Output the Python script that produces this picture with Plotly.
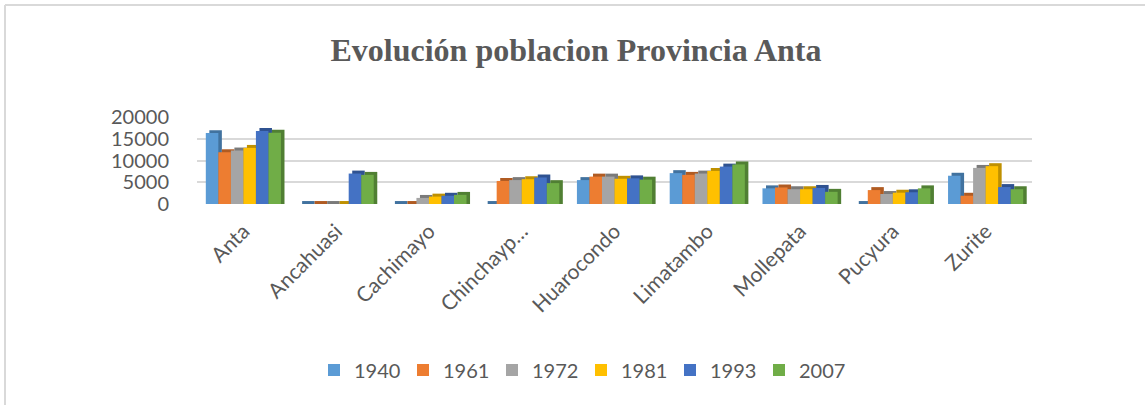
import plotly.graph_objects as go

# Data
districts = ["Anta", "Ancahuasi", "Cachimayo", "Chinchayp…", "Huarocondo",
             "Limatambo", "Mollepata", "Pucyura", "Zurite"]
years = ["1940", "1961", "1972", "1981", "1993", "2007"]

pop_1940 = [16300, 0, 0, 0, 5500, 7100, 3600, 0, 6500]
pop_1961 = [11900, 0, 0, 5300, 6300, 6700, 3800, 3200, 1900]
pop_1972 = [12300, 0, 1400, 5500, 6300, 7000, 3400, 2300, 8300]
pop_1981 = [12900, 0, 1700, 5700, 5800, 7600, 3400, 2600, 8700]
pop_1993 = [16800, 7000, 1900, 6100, 5900, 8600, 3700, 2700, 3900]
pop_2007 = [16400, 6700, 2100, 4800, 5600, 9100, 2800, 3600, 3400]

y_ticks = [0, 5000, 10000, 15000, 20000]

series = [pop_1940, pop_1961, pop_1972, pop_1981, pop_1993, pop_2007]
colors = ["#5B9BD5", "#ED7D31", "#A5A5A5", "#FFC000", "#4472C4", "#70AD47"]
side_colors = ["#41729F", "#B05B22", "#7A7A7A", "#BF9000", "#2F5291", "#507F33"]

# Page geometry (pixels)
W, H = 1145, 405
ML, MR, MT, MB = 197, 113, 117, 201
pw, ph = W - ML - MR, H - MT - MB

GREY = "#595959"
FONT = "Lato"

bar_w = 0.135
start = -0.405
depth_x = 0.038
depth_y = 680

xs = list(range(len(districts)))
fig = go.Figure()

# darker "3D" side / top faces first
for i, vals in enumerate(series):
    fig.add_trace(go.Bar(
        x=xs, y=[v + depth_y for v in vals], base=0,
        offset=start + i * bar_w + depth_x, width=bar_w,
        marker=dict(color=side_colors[i], line=dict(width=0)),
        showlegend=False, hoverinfo="skip"))

# front faces
for i, vals in enumerate(series):
    fig.add_trace(go.Bar(
        x=xs, y=vals, name=years[i],
        offset=start + i * bar_w, width=bar_w,
        marker=dict(color=colors[i], line=dict(width=0))))


def px_x(p):
    return (p - ML) / pw


def px_y(p):
    return (H - MB - p) / ph


# light frame round the chart area (top and left edges visible)
frame = dict(color="#D9D9D9", width=2)
fig.add_shape(type="line", xref="paper", yref="paper",
              x0=px_x(5), y0=px_y(5), x1=px_x(W + 5), y1=px_y(5), line=frame)
fig.add_shape(type="line", xref="paper", yref="paper",
              x0=px_x(5), y0=px_y(5), x1=px_x(5), y1=px_y(H + 5), line=frame)

fig.update_layout(
    width=W, height=H,
    margin=dict(l=ML, r=MR, t=MT, b=MB, pad=0, autoexpand=False),
    paper_bgcolor="white", plot_bgcolor="white",
    barmode="overlay",
    title=dict(text="<b>Evolución poblacion Provincia Anta</b>",
               font=dict(family="Liberation Serif", size=32, color=GREY),
               x=576 / W, xanchor="center", xref="container",
               y=1 - 50 / H, yanchor="middle", yref="container"),
    legend=dict(orientation="h", x=581 / W, xanchor="center", xref="container",
                y=1 - 370 / H, yanchor="middle", yref="container",
                font=dict(family=FONT, size=20, color=GREY),
                entrywidth=44, entrywidthmode="pixels",
                traceorder="normal"),
    font=dict(family=FONT, color=GREY),
)

fig.update_yaxes(range=[0, 20000], tickvals=y_ticks, ticktext=[str(v) for v in y_ticks],
                 showgrid=True, gridcolor="#D9D9D9", gridwidth=2,
                 zeroline=False, showline=False, automargin=False,
                 tickfont=dict(family=FONT, size=20, color=GREY),
                 ticks="", ticklabelstandoff=27)

fig.update_xaxes(range=[-0.5, len(districts) - 0.5], tickvals=xs, ticktext=districts,
                 tickangle=-45, showgrid=False, zeroline=False, showline=False,
                 automargin=False,
                 tickfont=dict(family=FONT, size=21, color=GREY),
                 ticks="", ticklabelstandoff=10)

# drop the browser's default page margin so the figure sits at the window corner
fig.write_html("out.html", config={"displayModeBar": False},
               post_script="document.body.style.margin = '0';")
